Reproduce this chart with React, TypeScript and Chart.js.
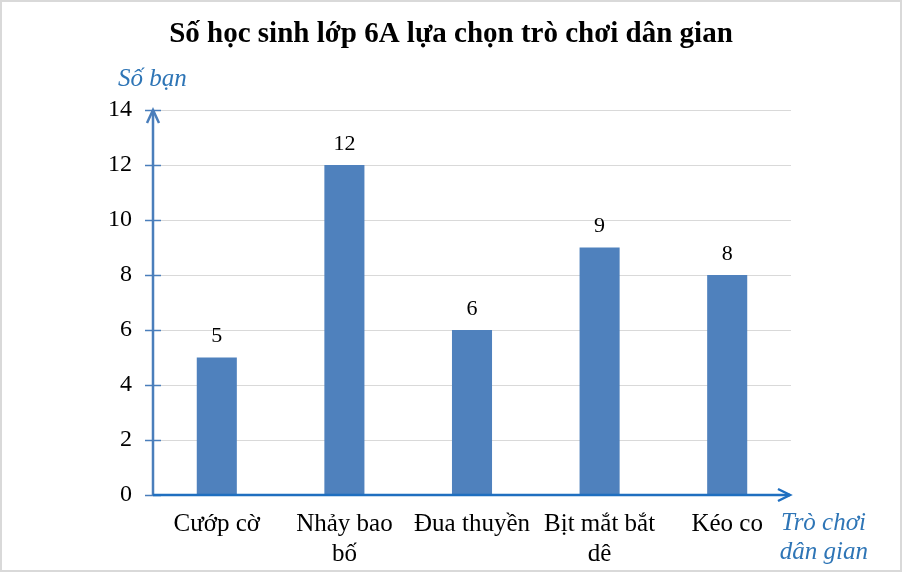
import { useEffect, useRef } from "react";
import { Chart, registerables, Plugin } from "chart.js";

Chart.register(...registerables);

// chart data
const categories: (string | string[])[] = ["Cướp cờ", ["Nhảy bao", "bố"], "Đua thuyền", ["Bịt mắt bắt", "dê"], "Kéo co"];
const studentCounts = [5, 12, 6, 9, 8];
const yTicks = [0, 2, 4, 6, 8, 10, 12, 14];

const chartTitle = "Số học sinh lớp 6A lựa chọn trò chơi dân gian";
const yAxisTitle = "Số bạn";
const xAxisTitle = ["Trò chơi", "dân gian"];

const SERIF = '"Liberation Serif", "Times New Roman", serif';
const BAR_COLOR = "#4F81BD";
const AXIS_COLOR = "#4A7EBB";
const ARROW_COLOR = "#1F6FC0";
const LABEL_BLUE = "#2E75B6";

// draws title, axis arrows, axis titles, value labels and the frame
const decorPlugin: Plugin<"bar"> = {
  id: "decor",
  afterDraw(chart) {
    const { ctx, chartArea } = chart;
    const { left, right, top, bottom } = chartArea;
    ctx.save();

    // frame
    ctx.strokeStyle = "#d9d9d9";
    ctx.lineWidth = 2;
    ctx.strokeRect(1, 1, chart.width - 2, chart.height - 2);

    // title
    ctx.fillStyle = "#000";
    ctx.font = `bold 29px ${SERIF}`;
    ctx.textAlign = "center";
    ctx.textBaseline = "middle";
    ctx.fillText(chartTitle, chart.width / 2, 35);

    // y tick marks crossing the axis
    const yScale = chart.scales.y;
    ctx.strokeStyle = AXIS_COLOR;
    ctx.lineWidth = 1.5;
    yTicks.forEach((v) => {
      const y = Math.round(yScale.getPixelForValue(v)) + 0.5;
      ctx.beginPath();
      ctx.moveTo(left - 8, y);
      ctx.lineTo(left + 8, y);
      ctx.stroke();
    });

    // y axis with arrow
    ctx.lineWidth = 2.5;
    ctx.beginPath();
    ctx.moveTo(left, bottom);
    ctx.lineTo(left, top);
    ctx.stroke();
    ctx.beginPath();
    ctx.moveTo(left - 6, top + 13);
    ctx.lineTo(left, top);
    ctx.lineTo(left + 6, top + 13);
    ctx.stroke();

    // x axis with arrow
    ctx.strokeStyle = ARROW_COLOR;
    ctx.beginPath();
    ctx.moveTo(left, bottom);
    ctx.lineTo(right - 1, bottom);
    ctx.stroke();
    ctx.beginPath();
    ctx.moveTo(right - 13, bottom - 6);
    ctx.lineTo(right - 1, bottom);
    ctx.lineTo(right - 13, bottom + 6);
    ctx.stroke();

    // axis titles
    ctx.fillStyle = LABEL_BLUE;
    ctx.font = `italic 25px ${SERIF}`;
    ctx.textAlign = "left";
    ctx.fillText(yAxisTitle, 118, 79);
    ctx.textAlign = "right";
    ctx.fillText(xAxisTitle[0], 866, 523);
    ctx.fillText(xAxisTitle[1], 868, 552);

    // value labels
    ctx.fillStyle = "#000";
    ctx.font = `22px ${SERIF}`;
    ctx.textAlign = "center";
    const meta = chart.getDatasetMeta(0);
    meta.data.forEach((bar, i) => {
      ctx.fillText(String(studentCounts[i]), bar.x, bar.y - 21);
    });

    ctx.restore();
  },
};

const App = () => {
  const canvasRef = useRef<HTMLCanvasElement>(null);

  useEffect(() => {
    if (!canvasRef.current) return;
    const chart = new Chart(canvasRef.current, {
      type: "bar",
      data: {
        labels: categories,
        datasets: [
          {
            data: studentCounts,
            backgroundColor: BAR_COLOR,
            barPercentage: 0.314,
            categoryPercentage: 1,
          },
        ],
      },
      options: {
        animation: false,
        responsive: true,
        maintainAspectRatio: false,
        layout: { padding: { top: 110, right: 111, bottom: 0, left: 0 } },
        plugins: {
          legend: { display: false },
          tooltip: { enabled: false },
          title: { display: false },
        },
        scales: {
          x: {
            grid: { display: false, drawTicks: false },
            border: { display: false },
            ticks: {
              color: "#000",
              padding: 15,
              maxRotation: 0,
              autoSkip: false,
              font: { family: SERIF, size: 25, lineHeight: 1.18 },
            },
            afterFit: (scale) => {
              scale.height = 77;
            },
          },
          y: {
            min: 0,
            max: 14,
            grid: { color: "#d9d9d9", lineWidth: 1, drawTicks: false },
            border: { display: false },
            ticks: {
              stepSize: 2,
              color: "#000",
              padding: 21,
              font: { family: SERIF, size: 24 },
            },
            afterFit: (scale) => {
              scale.width = 153;
            },
          },
        },
      },
      plugins: [decorPlugin],
    });
    return () => chart.destroy();
  }, []);

  return (
    <div style={{ position: "absolute", left: 0, top: 0, width: 902, height: 572, background: "#fff" }}>
      <canvas ref={canvasRef} />
    </div>
  );
};

export default App;
